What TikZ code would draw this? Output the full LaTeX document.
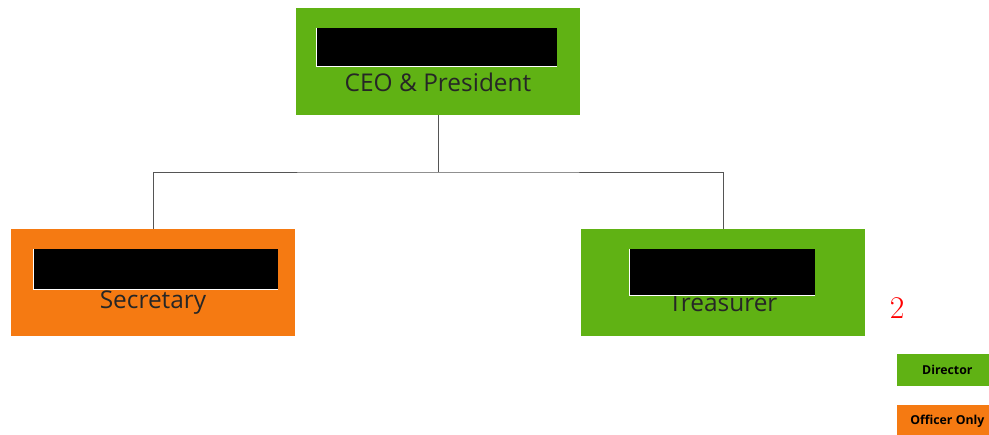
\documentclass[tikz,border=0pt]{standalone}
\usepackage{fontspec}
\newfontfamily\opensans{Open Sans}
\definecolor{directorgreen}{RGB}{96,178,20}
\definecolor{officerorange}{RGB}{245,122,18}
\definecolor{linkgray}{RGB}{85,85,85}
\tikzset{
  rolebox/.style={minimum width=5.68cm,minimum height=2.14cm,inner sep=0pt},
  redact/.style={fill=black,inner sep=0pt},
  redactedge/.style={draw=white,line width=0.5pt},
  roletext/.style={font=\opensans\fontsize{13.9}{15}\selectfont,text=black!85,inner sep=0pt},
  keybox/.style={minimum width=2cm,minimum height=0.64cm,inner sep=0pt,anchor=north west,
    font=\opensans\bfseries\fontsize{7}{8}\selectfont},
  link/.style={draw=linkgray,line width=0.55pt}
}

\begin{document}
\begin{tikzpicture}
  \clip (0,0) rectangle (19.78,-8.68);
  \useasboundingbox (0,0) rectangle (19.78,-8.68);
  % boxes
  \node[rolebox,fill=directorgreen] at (8.76,-1.23) (ceo) {};
  \node[rolebox,fill=officerorange] at (3.06,-5.65) (sec) {};
  \node[rolebox,fill=directorgreen] at (14.46,-5.65) (treas) {};
  \node[roletext] at (8.76,-1.64) (ceotxt) {CEO \& President};
  \node[roletext] at (3.06,-6.06) (sectxt) {Secretary};
  \node[roletext] at (14.46,-6.06) (treastxt) {Treasurer};
  \node[redact,minimum width=4.8cm,minimum height=0.76cm] at (8.74,-0.94) (ceored) {};
  \node[redact,minimum width=4.88cm,minimum height=0.8cm] at (3.12,-5.38) (secred) {};
  \node[redact,minimum width=3.7cm,minimum height=0.92cm] at (14.45,-5.44) (treasred) {};
  \draw[redactedge] (ceored.north west) |- (ceored.south east);
  \draw[redactedge] (secred.north west) |- (secred.south east);
  \draw[redactedge] (treasred.north west) |- (treasred.south east);
  % tree lines
  \coordinate (bar) at (8.76,-3.44);
  \draw[link] (ceo.south) -- (bar);
  \draw[link] (sec.north) |- (bar) -| (treas.north);
  % key
  \node[red,font=\fontsize{18}{20}\selectfont] at (17.94,-6.16) (pagenum) {2};
  \node[keybox,fill=directorgreen] at (17.94,-7.08) (keydir) {Director};
  \node[keybox,fill=officerorange] at (17.94,-8.1) (keyoff) {Officer Only};
\end{tikzpicture}
\end{document}
